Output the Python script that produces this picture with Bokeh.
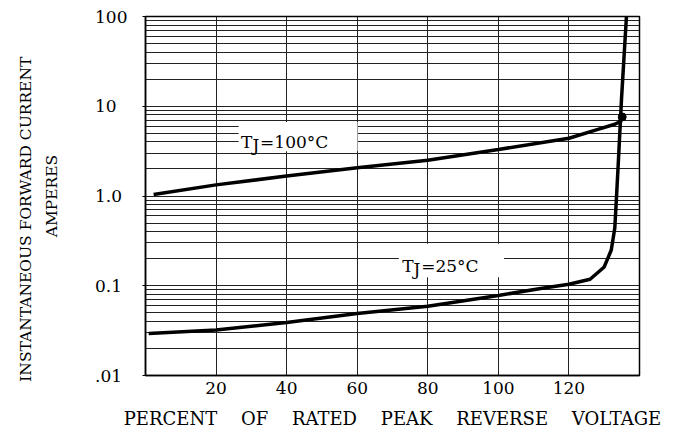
import numpy as np
from bokeh.plotting import figure
from bokeh.models import Range1d, FixedTicker, Label, LogAxis
from bokeh.embed import file_html
from bokeh.resources import INLINE

# ---------------- data ----------------
x_ticks = [20, 40, 60, 80, 100, 120]
y_decades = [0.01, 0.1, 1, 10, 100]
y_tick_labels = [".01", "0.1", "1.0", "10", "100"]

# TJ = 100 C curve
tj100_x = [2.3, 20, 40, 60, 80, 100, 120, 128, 133, 135]
tj100_y = [1.04, 1.33, 1.67, 2.07, 2.5, 3.3, 4.4, 5.5, 6.3, 6.9]

# TJ = 25 C curve
tj25_x = [0.9, 20, 40, 60, 80, 100, 112, 120, 126, 130, 132, 133, 133.4, 133.9, 134.4, 134.9, 136.3]
tj25_y = [0.0293, 0.0321, 0.0389, 0.049, 0.059, 0.078, 0.093, 0.104, 0.118, 0.162, 0.25, 0.44, 0.85, 2.0, 4.9, 12, 100]

# junction point of the two curves
knot_x = [135.1]
knot_y = [7.6]

label_100 = "=100°C"
label_25 = "=25°C"
x_title_words = ["PERCENT", "OF", "RATED", "PEAK", "REVERSE", "VOLTAGE"]
y_title_lines = ["INSTANTANEOUS FORWARD CURRENT", "AMPERES"]

FONT = "DejaVu Serif"
FIG_SP = "\u2007"    # digit-wide space
PUNC_SP = "\u2008"   # period-wide space
EM_SP = "\u2003"

p = figure(width=681, height=431,
           x_range=Range1d(0, 140), y_range=Range1d(0.01, 100),
           y_axis_type="log", output_backend="svg", toolbar_location=None,
           min_border_left=145, min_border_right=42,
           min_border_top=16, min_border_bottom=55)
p.background_fill_color = "white"
p.border_fill_color = "white"
p.outline_line_color = "black"
p.outline_line_width = 1.5

minor = [m * d for d in y_decades[:-1] for m in range(2, 10)]
yt = FixedTicker(ticks=y_decades, minor_ticks=minor)
xt = FixedTicker(ticks=x_ticks)

p.xaxis.ticker = xt
p.xgrid.ticker = xt
p.yaxis.ticker = yt
p.ygrid.ticker = yt

for g in (p.xgrid, p.ygrid):
    g.grid_line_color = "#222222"
    g.grid_line_width = 1
p.ygrid.minor_grid_line_color = "#222222"
p.ygrid.minor_grid_line_width = 1

# ---- x axis ----
xa = p.xaxis[0]
xa.axis_line_color = "black"
xa.axis_line_width = 1.5
xa.major_tick_out = 0
xa.major_tick_in = 0
xa.minor_tick_out = 0
xa.minor_tick_in = 0
xa.major_label_text_font = FONT
xa.major_label_text_font_size = "17px"
xa.major_label_text_color = "black"
xa.major_label_standoff = 6
xa.axis_label = (" " + EM_SP).join(x_title_words)
xa.axis_label_text_font = FONT
xa.axis_label_text_font_size = "18px"
xa.axis_label_text_font_style = "normal"
xa.axis_label_text_color = "black"
xa.axis_label_standoff = 11

# ---- y axis (tick labels + "AMPERES") ----
ya = p.yaxis[0]
ya.axis_line_color = "black"
ya.axis_line_width = 1.5
ya.major_tick_out = 3
ya.major_tick_in = 0
ya.minor_tick_out = 0
ya.minor_tick_in = 0
ya.major_label_text_font = FONT
ya.major_label_text_font_size = "17px"
ya.major_label_text_color = "black"
ya.major_label_standoff = 15
overrides = {}
for v, t in zip(y_decades, y_tick_labels):
    pad = PUNC_SP if "." in t else (FIG_SP * (3 - len(t)))
    overrides[v] = t + pad
ya.major_label_overrides = overrides
ya.axis_label = y_title_lines[1]
ya.axis_label_text_font = FONT
ya.axis_label_text_font_size = "15.5px"
ya.axis_label_text_font_style = "normal"
ya.axis_label_text_color = "black"
ya.axis_label_standoff = 31

# ---- outer axis carrying the first title line ----
ya2 = LogAxis(ticker=FixedTicker(ticks=[]))
ya2.axis_line_color = None
ya2.major_tick_out = 0
ya2.major_tick_in = 0
ya2.minor_tick_out = 0
ya2.minor_tick_in = 0
ya2.major_label_text_font_size = "1px"
ya2.major_label_standoff = 0
ya2.axis_label = y_title_lines[0] + EM_SP * 3
ya2.axis_label_text_font = FONT
ya2.axis_label_text_font_size = "15.5px"
ya2.axis_label_text_font_style = "normal"
ya2.axis_label_text_color = "black"
ya2.axis_label_standoff = 6
p.add_layout(ya2, "left")

# white label boxes
p.quad(left=[26.4, 71.8], right=[60.1, 101.6], bottom=[3.16, 0.124], top=[6.66, 0.294],
       fill_color="white", line_color=None)

# curves
p.line(tj100_x, tj100_y, line_color="black", line_width=3.5)
p.line(tj25_x, tj25_y, line_color="black", line_width=3.5)
p.scatter(knot_x, knot_y, size=8, fill_color="black", line_color="black")

def add_label(**kw):
    kw.setdefault("text_font", FONT)
    kw.setdefault("text_font_size", "17px")
    kw.setdefault("text_color", "black")
    p.add_layout(Label(**kw))

def tj_label(x, y, rest):
    add_label(x=x, y=y, text="T", text_baseline="alphabetic")
    add_label(x=x, y=y, x_offset=11.3, y_offset=-3, text="J", text_baseline="alphabetic")
    add_label(x=x, y=y, x_offset=19.0, text=rest, text_baseline="alphabetic")

tj_label(27.1, 3.98, label_100)
tj_label(72.75, 0.1666, label_25)

open("out.html", "w").write(file_html(p, INLINE))
